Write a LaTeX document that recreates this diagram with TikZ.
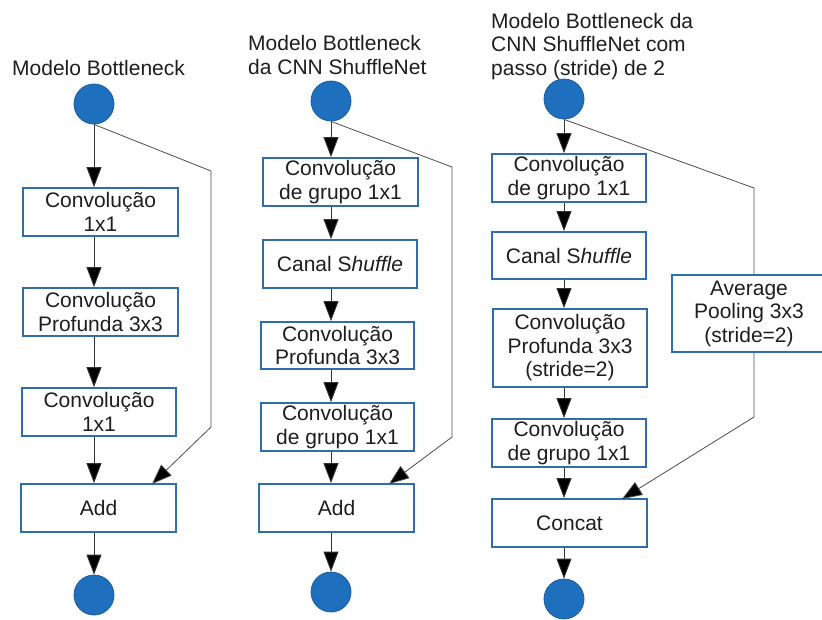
\documentclass[tikz,border=0pt]{standalone}
\usepackage{fontspec}
\setmainfont{Liberation Sans}
\usetikzlibrary{arrows.meta}
\definecolor{boxblue}{RGB}{46,110,173}
\definecolor{dotfill}{RGB}{30,112,190}
\definecolor{dotline}{RGB}{28,92,158}
\definecolor{txt}{RGB}{30,30,30}
\tikzset{
  x=1pt, y=-1pt,
  every node/.style={font=\fontsize{21}{23.5}\selectfont, text=txt},
  layerbox/.style={draw=boxblue, line width=1.8pt, fill=white, inner sep=0pt,
    minimum width=154pt, minimum height=48pt, align=center},
  dot/.style={circle, fill=dotfill, draw=dotline, line width=0.8pt,
    minimum size=40pt, inner sep=0pt},
  title/.style={anchor=base west, align=left, inner sep=0pt},
  arr/.style={draw=black!80, line width=0.9pt,
    -{Triangle[length=20pt,width=15pt,fill=black]}},
  skip/.style={draw=black!70, line width=0.8pt},
  skiparr/.style={skip, -{Triangle[length=20pt,width=15pt,fill=black]}},
}
\begin{document}
\begin{tikzpicture}
\useasboundingbox (0,0) rectangle (822,619);
\clip (0,0) rectangle (822,619);

% ---------- plain bottleneck ----------
\node[title] (t1) at (12,75) {Modelo Bottleneck};
\node[dot] (c1in) at (94,104) {};
\node[layerbox, minimum width=155pt] (b11) at (100.5,212) {Convolução\\1x1};
\node[layerbox, minimum width=155pt] (b12) at (100.5,312) {Convolução\\Profunda 3x3};
\node[layerbox] (b13) at (99,412) {Convolução\\1x1};
\node[layerbox, minimum width=155pt] (b14) at (98.5,508) {Add};
\node[dot] (c1out) at (94,595) {};
\coordinate (k1a) at (211,171);
\coordinate (k1b) at (211,427);
\coordinate (k1c) at (152,484);

\draw[arr] (c1in) -- (c1in |- b11.north);
\draw[arr] (b11.south -| c1in) -- (b12.north -| c1in);
\draw[arr] (b12.south -| c1in) -- (b13.north -| c1in);
\draw[arr] (b13.south -| c1in) -- (b14.north -| c1in);
\draw[arr] (b14.south -| c1in) -- (c1out);
\draw[skiparr] (c1in.south) -- (k1a) -- (k1b) -- (k1c);

% ---------- ShuffleNet unit ----------
\node[title] (t2) at (248,74) {Modelo Bottleneck\\da CNN ShuffleNet};
\node[dot] (c2in) at (331,101) {};
\node[layerbox, minimum width=155pt] (b21) at (340.5,182) {Convolução\\de grupo 1x1};
\node[layerbox] (b22) at (340,264) {Canal S\textit{huffle}};
\node[layerbox, minimum width=153pt, minimum height=47pt] (b23) at (337.5,345.5) {Convolução\\Profunda 3x3};
\node[layerbox, minimum width=153pt] (b24) at (337.5,427) {Convolução\\de grupo 1x1};
\node[layerbox, minimum width=155pt] (b25) at (336.5,508) {Add};
\node[dot] (c2out) at (331,592) {};
\coordinate (k2a) at (452,167);
\coordinate (k2b) at (452,437);
\coordinate (k2c) at (389,484);

\draw[arr] (c2in) -- (c2in |- b21.north);
\draw[arr] (b21.south -| c2in) -- (b22.north -| c2in);
\draw[arr] (b22.south -| c2in) -- (b23.north -| c2in);
\draw[arr] (b23.south -| c2in) -- (b24.north -| c2in);
\draw[arr] (b24.south -| c2in) -- (b25.north -| c2in);
\draw[arr] (b25.south -| c2in) -- (c2out);
\draw[skiparr] (c2in.south) -- (k2a) -- (k2b) -- (k2c);

% ---------- ShuffleNet unit, stride 2 ----------
\node[title] (t3) at (491,75) {Modelo Bottleneck da\\CNN ShuffleNet com\\passo (stride) de 2};
\node[dot] (c3in) at (564,99) {};
\node[layerbox] (b31) at (569,178) {Convolução\\de grupo 1x1};
\node[layerbox, minimum height=47pt] (b32) at (569,255.5) {Canal S\textit{huffle}};
\node[layerbox, minimum height=78pt] (b33) at (570,348) {Convolução\\Profunda 3x3\\(stride=2)};
\node[layerbox] (b34) at (569,443) {Convolução\\de grupo 1x1};
\node[layerbox, minimum width=155pt] (b35) at (569.5,523) {Concat};
\node[dot] (c3out) at (564,599) {};
\node[layerbox, minimum height=77pt] (avg) at (749,313.5) {Average\\Pooling 3x3\\(stride=2)};
\coordinate (k3a) at (754,188);
\coordinate (k3b) at (754,417);
\coordinate (k3c) at (622,499);

\draw[arr] (c3in) -- (c3in |- b31.north);
\draw[arr] (b31.south -| c3in) -- (b32.north -| c3in);
\draw[arr] (b32.south -| c3in) -- (b33.north -| c3in);
\draw[arr] (b33.south -| c3in) -- (b34.north -| c3in);
\draw[arr] (b34.south -| c3in) -- (b35.north -| c3in);
\draw[arr] (b35.south -| c3in) -- (c3out);
\draw[skip] (c3in.south) -- (k3a) -- (k3a |- avg.north);
\draw[skiparr] (k3a |- avg.south) -- (k3b) -- (k3c);
\end{tikzpicture}
\end{document}
